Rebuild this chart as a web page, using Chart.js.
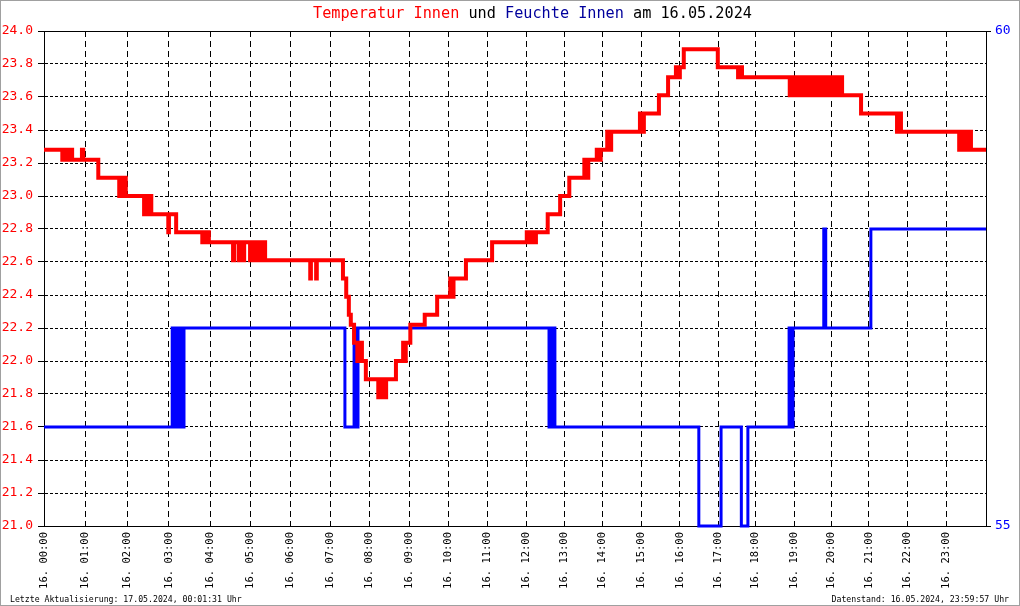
<!DOCTYPE html>
<html>
<head>
<meta charset="utf-8">
<script src="https://cdn.jsdelivr.net/npm/chart.js@4.4.1/dist/chart.umd.min.js"></script>
<style>
  html, body { margin: 0; padding: 0; background: #fff; }
  #wrap { position: relative; width: 1020px; height: 606px; background: #fff; overflow: hidden; }
  #frame { position: absolute; left: 0; top: 0; width: 1020px; height: 606px; box-sizing: border-box; border: 1px solid #a0a0a0; pointer-events: none; }
  #title { position: absolute; left: 313px; top: 6px; font: 15.2px/15px "DejaVu Sans Mono", monospace; white-space: pre; color: #000; }
  .foot { position: absolute; top: 595px; font: 8.2px/8px "DejaVu Sans Mono", monospace; white-space: pre; color: #000; }
  #footL { left: 10px; }
  #footR { right: 11px; }
  canvas { position: absolute; left: 0; top: 0; }
</style>
</head>
<body>
<div id="wrap">
  <canvas id="c" width="1020" height="606"></canvas>
  <div id="title"><span style="color:#ff0000">Temperatur Innen</span> und <span style="color:#00009c">Feuchte Innen</span> am 16.05.2024</div>
  <div class="foot" id="footL">Letzte Aktualisierung: 17.05.2024, 00:01:31 Uhr</div>
  <div class="foot" id="footR">Datenstand: 16.05.2024, 23:59:57 Uhr</div>
  <div id="frame"></div>
</div>
<script>
// ---- data (x = sample number of the day's log, 0..SAMPLE_MAX) ----
const SAMPLE_MAX = 1440;
const HOUR_POS = [0,63,128,191,254,316,377,438,497,558,618,678,737,796,854,913,972,1031,1088,1147,1204,1261,1320,1379];
const HOUR_LABELS = ['00:00','01:00','02:00','03:00','04:00','05:00','06:00','07:00','08:00','09:00','10:00','11:00',
                     '12:00','13:00','14:00','15:00','16:00','17:00','18:00','19:00','20:00','21:00','22:00','23:00'];
const DAY_PREFIX = '16. ';

const TEMP_IDX = [0,28,29,32,34,38,40,43,58,60,83,
  115,116,121,122,125,153,154,159,161,164,190,191,202,
  242,243,248,249,252,289,291,298,299,304,306,315,317,321,323,327,329,333,335,338,
  407,408,416,417,
  457,462,466,469,474,479,480,483,485,486,492,511,512,515,516,520,523,
  538,549,552,553,560,582,601,621,623,626,645,
  685,738,740,745,747,752,770,789,803,826,827,832,845,846,851,861,862,867,911,912,917,940,954,966,967,972,978,
  1030,1061,1062,1067,
  1140,1143,1145,1147,1150,1152,1154,1156,1159,1161,1165,1167,1169,1172,1174,1176,1180,1182,1185,1187,
  1189,1192,1195,1198,1200,1202,1205,1207,1211,1213,1215,1218,1220,
  1249,1304,1305,1310,1399,1400,1405,1406,1411,1413,1417,1440];
const TEMP_VAL = [23.28,23.22,23.28,23.22,23.28,23.22,23.28,23.22,23.28,23.22,23.11,
  23.0,23.11,23.0,23.11,23.0,22.89,23.0,22.89,23.0,22.89,22.78,22.89,22.78,
  22.72,22.78,22.72,22.78,22.72,22.61,22.72,22.61,22.72,22.61,22.72,22.61,22.72,22.61,22.72,22.61,22.72,22.61,22.72,22.61,
  22.5,22.61,22.5,22.61,
  22.5,22.39,22.28,22.22,22.11,22.0,22.11,22.0,22.11,22.0,21.89,21.78,21.89,21.78,21.89,21.78,21.89,
  22.0,22.11,22.0,22.11,22.22,22.28,22.39,22.5,22.39,22.5,22.61,
  22.72,22.78,22.72,22.78,22.72,22.78,22.89,23.0,23.11,23.22,23.11,23.22,23.28,23.22,23.28,23.39,23.28,23.39,
  23.5,23.39,23.5,23.61,23.72,23.78,23.72,23.78,23.89,
  23.78,23.72,23.78,23.72,
  23.61,23.72,23.61,23.72,23.61,23.72,23.61,23.72,23.61,23.72,23.61,23.72,23.61,23.72,23.61,23.72,23.61,23.72,23.61,23.72,
  23.61,23.72,23.61,23.72,23.61,23.72,23.61,23.72,23.61,23.72,23.61,23.72,23.61,
  23.5,23.39,23.5,23.39,23.28,23.39,23.28,23.39,23.28,23.39,23.28,23.28];

const HUM_IDX = [0,196,198,200,203,205,209,210,212,214,460,474,475,477,478,480,772,774,777,778,781,
  1001,1035,1066,1076,1139,1140,1142,1143,1145,1192,1195,1264,1440];
const HUM_VAL = [56,57,56,57,56,57,56,57,56,57,56,57,56,57,56,57,56,57,56,57,56,
  55,56,55,56,57,56,57,56,57,58,57,58,58];

const TEMP_MIN = 21.0, TEMP_MAX = 24.0, TEMP_STEP = 0.2;
const HUM_MIN = 55, HUM_MAX = 60;

// ---- chart ----
const MONO = '"DejaVu Sans Mono", monospace';
const zip = (xs, ys) => xs.map((x, i) => ({ x: x, y: ys[i] }));

const framePlugin = {
  id: 'frame',
  beforeDatasetsDraw(chart) {
    const a = chart.chartArea, ctx = chart.ctx;
    ctx.save();
    ctx.strokeStyle = '#000';
    ctx.lineWidth = 1;
    ctx.setLineDash([]);
    ctx.beginPath();
    ctx.moveTo(Math.round(a.left) + 0.5, Math.round(a.top) + 0.5);
    ctx.lineTo(Math.round(a.right) + 0.5, Math.round(a.top) + 0.5);
    ctx.stroke();
    ctx.restore();
  }
};

new Chart(document.getElementById('c'), {
  type: 'line',
  data: {
    datasets: [
      {
        label: 'Temperatur Innen',
        data: zip(TEMP_IDX, TEMP_VAL),
        yAxisID: 'y',
        borderColor: '#ff0000',
        borderWidth: 4,
        stepped: true,
        pointRadius: 0,
        borderJoinStyle: 'miter',
        borderCapStyle: 'butt',
        fill: false,
        clip: 5
      },
      {
        label: 'Feuchte Innen',
        data: zip(HUM_IDX, HUM_VAL),
        yAxisID: 'y2',
        borderColor: '#0000ff',
        borderWidth: 3,
        stepped: true,
        pointRadius: 0,
        borderJoinStyle: 'miter',
        borderCapStyle: 'butt',
        fill: false,
        clip: 5
      }
    ]
  },
  options: {
    responsive: false,
    animation: false,
    events: [],
    layout: { padding: { top: 31, left: 0, right: 0, bottom: 0 } },
    plugins: { legend: { display: false }, title: { display: false }, tooltip: { enabled: false } },
    scales: {
      x: {
        type: 'linear',
        min: 0,
        max: SAMPLE_MAX,
        afterBuildTicks(scale) { scale.ticks = HOUR_POS.map(v => ({ value: v })); },
        afterFit(scale) { scale.height = 80; },
        ticks: {
          autoSkip: false,
          minRotation: 90,
          maxRotation: 90,
          padding: 6,
          color: '#000',
          font: { family: MONO, size: 10.5 },
          callback: (v, i) => DAY_PREFIX + HOUR_LABELS[i]
        },
        grid: { color: '#000', lineWidth: 1, drawTicks: false, tickLength: 0 },
        border: { display: true, color: '#000', width: 1, dash: [6, 4] }
      },
      y: {
        position: 'left',
        min: TEMP_MIN,
        max: TEMP_MAX,
        afterFit(scale) { scale.width = 44; },
        ticks: {
          stepSize: TEMP_STEP,
          padding: 5,
          color: '#ff0000',
          font: { family: MONO, size: 13 },
          callback: v => Number(v).toFixed(1)
        },
        grid: { color: '#000', lineWidth: 1, tickLength: 6, tickColor: '#000' },
        border: { display: true, color: '#000', width: 1, dash: [3, 2] }
      },
      y2: {
        position: 'right',
        min: HUM_MIN,
        max: HUM_MAX,
        afterFit(scale) { scale.width = 34; },
        ticks: {
          stepSize: 5,
          padding: 4,
          color: '#0000ff',
          font: { family: MONO, size: 13 },
          callback: v => String(v)
        },
        grid: { drawOnChartArea: false, color: '#000', tickLength: 5, tickColor: '#000' },
        border: { display: true, color: '#000', width: 1 }
      }
    }
  },
  plugins: [framePlugin]
});
</script>
</body>
</html>
